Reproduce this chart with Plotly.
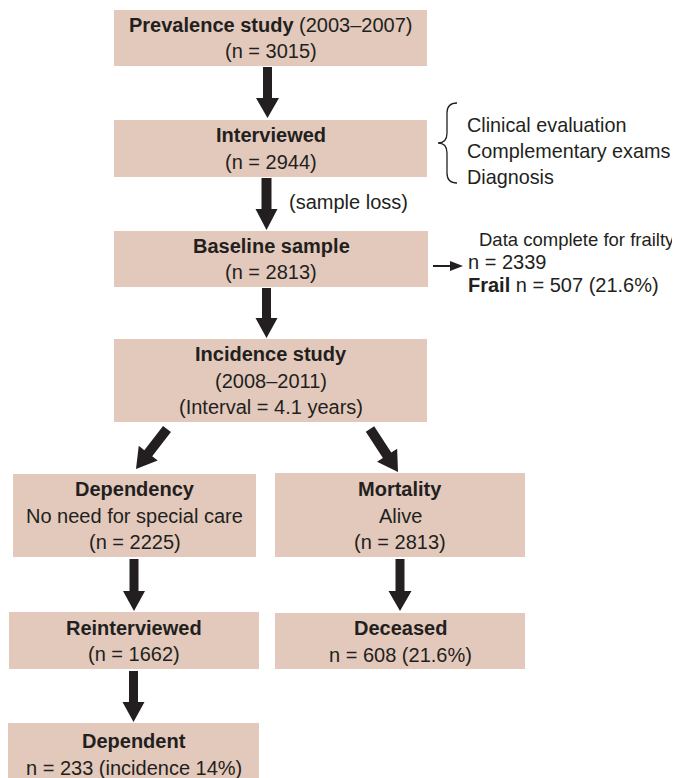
import math
import plotly.graph_objects as go

# ---------------- data ----------------
stage_labels = ["Prevalence study", "Interviewed", "Baseline sample", "Incidence study",
                "Dependency", "Mortality", "Reinterviewed", "Deceased", "Dependent"]
stage_periods = ["(2003–2007)", "", "", "(2008–2011)", "", "", "", "", ""]
stage_notes = ["", "", "", "(Interval = 4.1 years)", "No need for special care", "Alive", "", "", ""]
stage_n = [3015, 2944, 2813, None, 2225, 2813, 1662, 608, 233]
stage_n_extra = ["", "", "", "", "", "", "", "21.6%", "incidence 14%"]

exam_items = ["Clinical evaluation", "Complementary exams", "Diagnosis"]
loss_label = "(sample loss)"
frailty_label = "Data complete for frailty"
frailty_n = 2339
frail_n = 507
frail_pct = "21.6%"

# ---------------- styles / layout ----------------
BOX = "#E2C9BB"
INK = "#231F20"
FONT = "Liberation Sans, Arial, Helvetica, sans-serif"
FS = 20
LINE_H = 26.3
PAGE_MARGIN = 8  # default body margin of the page holding the figure

# box geometry (x0, x1, y0, y1) in pixel space of the 680x778 window
box_x0 = [114, 114, 114, 114, 13, 275, 9, 275, 8]
box_x1 = [427, 427, 428, 427, 256, 525, 259, 525, 259]
box_y0 = [10, 120, 231, 339, 474, 473, 612, 613, 723]
box_y1 = [66, 177, 287, 422, 557, 557, 669, 669, 790]
text_cy = [38, 148.5, 259, 380.5, 515.5, 515.5, 641, 641.5, 754.5]

shapes = []
annotations = []


def add_text(x, y, text, xanchor="center", size=FS):
    annotations.append(dict(x=x, y=y, xref="x", yref="y", text=text, showarrow=False,
                            xanchor=xanchor, yanchor="middle",
                            font=dict(family=FONT, size=size, color=INK)))


for i, label in enumerate(stage_labels):
    shapes.append(dict(type="rect", xref="x", yref="y", x0=box_x0[i], x1=box_x1[i],
                       y0=box_y0[i], y1=box_y1[i], fillcolor=BOX, line=dict(width=0),
                       layer="below"))
    lines = []
    first = f"<b>{label}</b>"
    if stage_periods[i] and i == 0:
        first += " " + stage_periods[i]
        lines.append(first)
    else:
        lines.append(first)
        if stage_periods[i]:
            lines.append(stage_periods[i])
    if stage_notes[i]:
        lines.append(stage_notes[i])
    if stage_n[i] is not None:
        if stage_n_extra[i]:
            lines.append(f"n = {stage_n[i]} ({stage_n_extra[i]})")
        else:
            lines.append(f"(n = {stage_n[i]})")
    cx = (box_x0[i] + box_x1[i]) / 2
    cy = text_cy[i]
    n = len(lines)
    for k, t in enumerate(lines):
        add_text(cx, cy + (k - (n - 1) / 2) * LINE_H, t)


def arrow_path(x0, y0, x1, y1, sw=9, hw=22, hl=20):
    dx, dy = x1 - x0, y1 - y0
    L = math.hypot(dx, dy)
    ux, uy = dx / L, dy / L
    px, py = -uy, ux
    bx, by = x1 - ux * hl, y1 - uy * hl
    pts = [
        (x0 + px * sw / 2, y0 + py * sw / 2),
        (bx + px * sw / 2, by + py * sw / 2),
        (bx + px * hw / 2, by + py * hw / 2),
        (x1, y1),
        (bx - px * hw / 2, by - py * hw / 2),
        (bx - px * sw / 2, by - py * sw / 2),
        (x0 - px * sw / 2, y0 - py * sw / 2),
    ]
    return "M " + " L ".join(f"{a:.2f},{b:.2f}" for a, b in pts) + " Z"


arrows = [
    (267.5, 67, 267.5, 118, 9, 23, 20),
    (266.5, 178, 266.5, 230, 10, 22, 21),
    (266.5, 288, 266.5, 338, 9, 22, 20),
    (167, 429, 136, 469, 10, 24, 20),
    (370, 429, 398, 472, 10, 24, 20),
    (400, 559, 400, 611, 9, 23, 20),
    (134, 559, 134, 611, 9, 22, 20),
    (133.5, 671, 133.5, 722, 9, 22, 20),
    (433, 266, 463, 266, 2, 10, 13),
]
for a in arrows:
    shapes.append(dict(type="path", xref="x", yref="y", path=arrow_path(*a),
                       fillcolor=INK, line=dict(width=0)))

# curly brace
brace = ("M 457,103 Q 447,103 447,113 L 447,133 Q 447,143 438,143 "
         "Q 447,143 447,153 L 447,173 Q 447,183 457,183")
shapes.append(dict(type="path", xref="x", yref="y", path=brace,
                   line=dict(color=INK, width=1.3)))

exam_y = [125, 151, 177]
for t, y in zip(exam_items, exam_y):
    add_text(465, y, t, xanchor="left", size=19.8)

add_text(287, 202, loss_label, xanchor="left")
add_text(477, 239, frailty_label, xanchor="left", size=18.5)
add_text(466, 262, f"n = {frailty_n}", xanchor="left")
add_text(466, 285, f"<b>Frail</b> n = {frail_n} ({frail_pct})", xanchor="left")

fig = go.Figure()
fig.update_layout(
    width=680 - PAGE_MARGIN, height=778 - PAGE_MARGIN,
    margin=dict(l=0, r=0, t=0, b=0),
    paper_bgcolor="white", plot_bgcolor="white",
    xaxis=dict(range=[PAGE_MARGIN, 680], visible=False, fixedrange=True),
    yaxis=dict(range=[778, PAGE_MARGIN], visible=False, fixedrange=True),
    shapes=shapes, annotations=annotations, showlegend=False,
)
fig.write_html("out.html")
